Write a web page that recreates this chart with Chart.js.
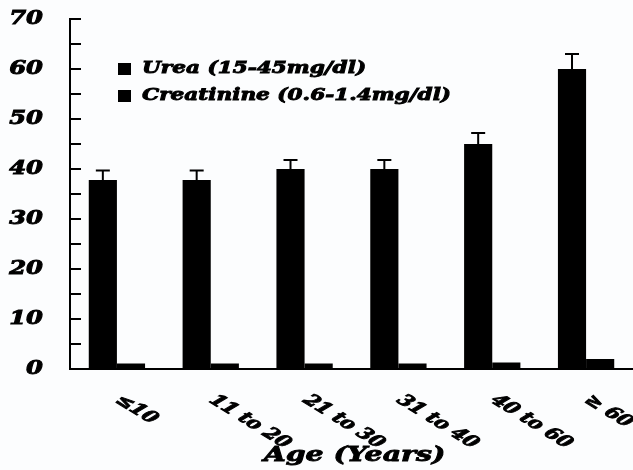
<!DOCTYPE html>
<html>
<head>
<meta charset="utf-8">
<script src="https://cdn.jsdelivr.net/npm/chart.js@4"></script>
<style>
  html, body { margin: 0; padding: 0; background: #fcfdfe; }
  #wrap { width: 633px; height: 470px; }
</style>
</head>
<body>
<div id="wrap"><canvas id="kidneyChart"></canvas></div>
<script>
// data
const ageGroups = ['≤10', '11 to 20', '21 to 30', '31 to 40', '40 to 60', '≥ 60'];
const ureaMean = [37.8, 37.8, 40, 40, 45, 60];
const ureaErr = [1.9, 1.9, 1.8, 1.8, 2.2, 3];
const creatinineMean = [1.1, 1.1, 1.1, 1.1, 1.3, 2.0];
const seriesNames = ['Urea (15-45mg/dl)', 'Creatinine (0.6-1.4mg/dl)'];

const FONT = '"DejaVu Serif", serif';
const STRETCH = 1.35; // source figure text is stretched wide

function wideText(ctx, text, x, y, align, rot) {
  ctx.save();
  ctx.translate(x, y);
  ctx.scale(STRETCH, 1);
  if (rot) ctx.rotate(rot);
  ctx.textAlign = align;
  ctx.lineWidth = 0.9;  // fatten the glyphs a bit
  ctx.strokeText(text, 0, 0);
  ctx.fillText(text, 0, 0);
  ctx.restore();
}

// error bars, inner ticks, labels and legend
const decorations = {
  id: 'decorations',
  afterDatasetsDraw(chart) {
    const ctx = chart.ctx;
    const xs = chart.scales.x, ys = chart.scales.y;
    const area = chart.chartArea;

    // error bars on urea (upper half only)
    ctx.save();
    ctx.strokeStyle = '#000';
    ctx.lineWidth = 2;
    chart.getDatasetMeta(0).data.forEach((bar, i) => {
      const top = ys.getPixelForValue(ureaMean[i] + ureaErr[i]);
      ctx.beginPath();
      ctx.moveTo(bar.x, bar.y);
      ctx.lineTo(bar.x, top);
      ctx.moveTo(bar.x - 7, top);
      ctx.lineTo(bar.x + 7, top);
      ctx.stroke();
    });

    // y ticks pointing into the plot
    ys.ticks.forEach(t => {
      const py = ys.getPixelForValue(t.value);
      ctx.beginPath();
      ctx.moveTo(area.left, py);
      ctx.lineTo(area.left + 11, py);
      ctx.stroke();
    });

    ctx.fillStyle = '#000';
    ctx.textBaseline = 'middle';

    // y labels
    ctx.font = 'italic bold 18px ' + FONT;
    ys.ticks.forEach(t => {
      if (t.value % 10 !== 0) return;
      wideText(ctx, String(t.value), area.left - 27, ys.getPixelForValue(t.value), 'right');
    });

    // x labels, slanted downward
    ctx.font = 'italic bold 16px ' + FONT;
    ageGroups.forEach((lab, i) => {
      wideText(ctx, lab, xs.getPixelForValue(i) + 1, area.bottom + 29, 'left', 0.7);
    });

    // axis title
    ctx.font = 'italic bold 21px ' + FONT;
    wideText(ctx, 'Age (Years)', (area.left + area.right) / 2 + 3, 456, 'center');

    // legend
    ctx.font = 'italic bold 16px ' + FONT;
    seriesNames.forEach((name, i) => {
      const ly = area.top + 50 + i * 27;
      ctx.fillRect(area.left + 48, ly - 6, 13, 12);
      wideText(ctx, name, area.left + 72, ly, 'left');
    });
    ctx.restore();
  }
};

new Chart(document.getElementById('kidneyChart').getContext('2d'), {
  type: 'bar',
  data: {
    labels: ageGroups,
    datasets: [
      { label: seriesNames[0], data: ureaMean, backgroundColor: '#000' },
      { label: seriesNames[1], data: creatinineMean, backgroundColor: '#000' }
    ]
  },
  options: {
    responsive: true,
    maintainAspectRatio: false,
    animation: false,
    layout: { padding: { top: 19, right: 0, left: 0, bottom: 0 } },
    datasets: { bar: { categoryPercentage: 0.6, barPercentage: 1.0 } },
    plugins: { legend: { display: false }, tooltip: { enabled: false } },
    scales: {
      x: {
        grid: { display: false },
        border: { color: '#000', width: 2 },
        ticks: { display: false },
        afterFit: s => { s.height = 101; }
      },
      y: {
        min: 0,
        max: 70,
        ticks: { stepSize: 5, display: false },
        grid: { display: false },
        border: { color: '#000', width: 2 },
        afterFit: s => { s.width = 70; }
      }
    }
  },
  plugins: [decorations]
});
</script>
</body>
</html>
